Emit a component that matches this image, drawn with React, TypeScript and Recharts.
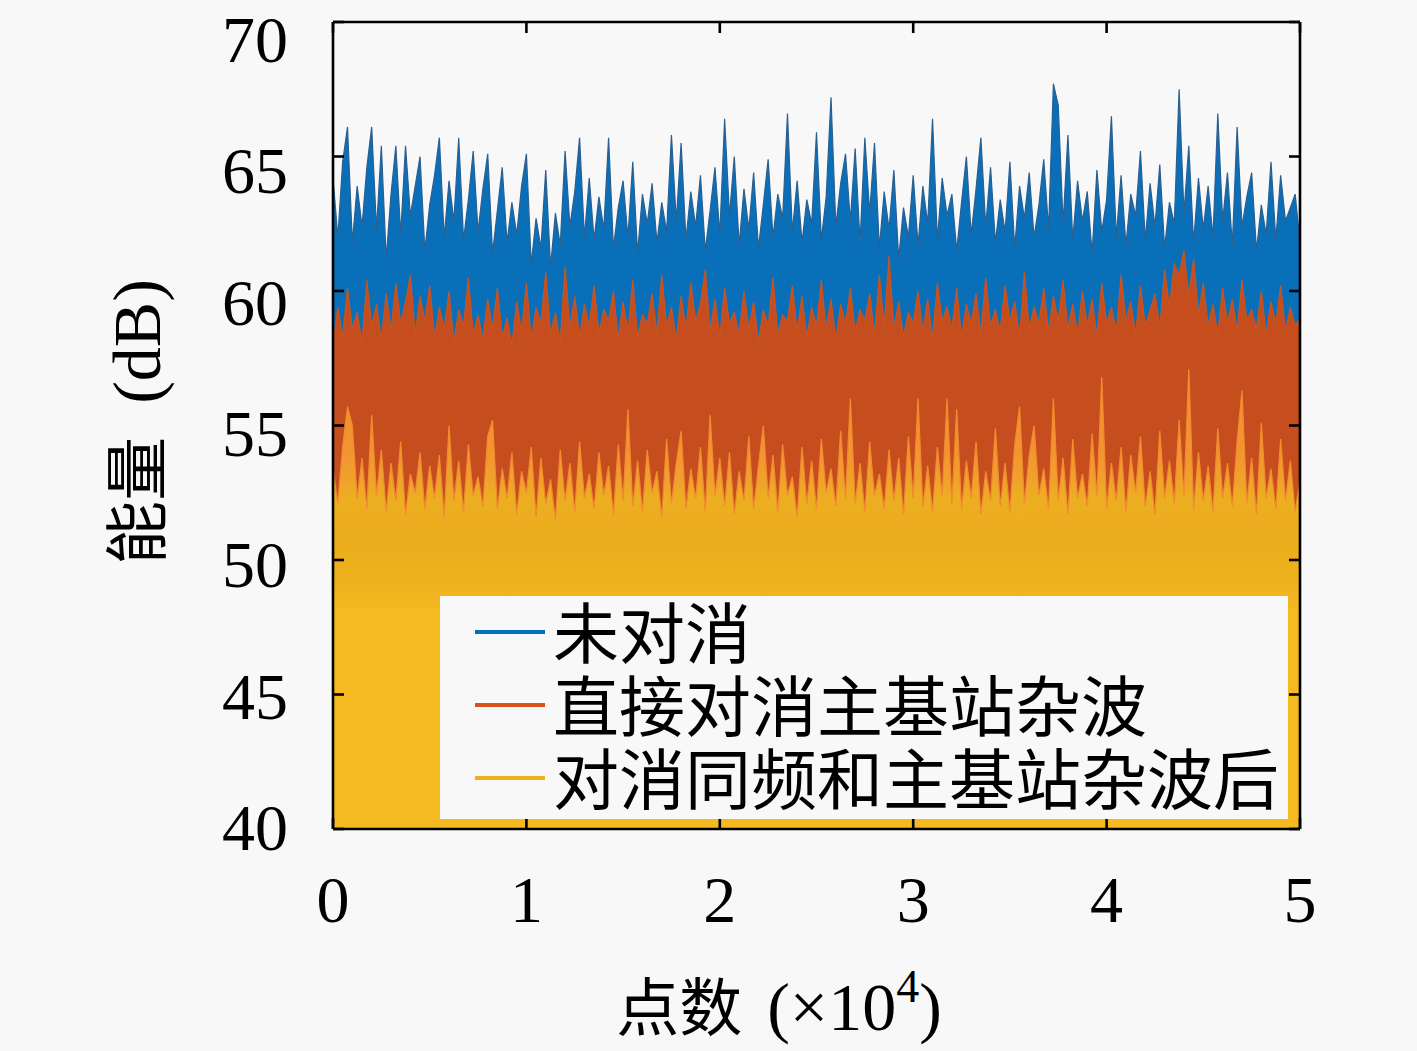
import React, { useEffect } from 'react';
import { ComposedChart, Area, XAxis, YAxis, Legend } from 'recharts';

// x in units of 10^4 points, one sample every 0.025
const X_STEP = 0.025;
const xTicks = [0, 1, 2, 3, 4, 5];
const yTicks = [40, 45, 50, 55, 60, 65, 70];
const seriesNames = ['未对消', '直接对消主基站杂波', '对消同频和主基站杂波后'];
const seriesColors = ['#0072BD', '#D95319', '#EDB120'];

// 未对消 (upper envelope, dB)
const blueTop = [
  64.2, 62.0, 64.8, 66.1, 61.8, 63.9, 62.4, 64.6, 66.1, 62.3,
  65.4, 61.2, 63.6, 65.4, 62.1, 65.4, 62.8, 63.9, 65.0, 61.5,
  63.2, 64.3, 65.7, 62.0, 64.1, 62.6, 65.7, 61.9, 63.4, 65.2,
  62.2, 63.8, 65.1, 61.4, 63.0, 64.6, 61.8, 63.3, 62.1, 63.9,
  65.1, 61.0, 62.7, 61.6, 64.5, 60.9, 62.9, 61.7, 65.2, 62.4,
  63.7, 65.7, 62.0, 64.2, 61.9, 63.5, 62.3, 65.7, 61.6, 63.1,
  64.1, 62.0, 64.8, 61.4, 63.6, 62.5, 64.0, 61.8, 63.3, 62.2,
  65.8, 62.6, 65.5, 61.9, 63.7, 62.4, 64.3, 61.5, 63.0, 64.6,
  62.1, 66.4, 62.8, 65.0, 61.7, 63.8, 62.3, 64.4, 61.6, 63.2,
  64.9, 62.0, 63.6, 62.7, 66.6, 62.2, 64.1, 61.8, 63.4, 62.5,
  65.9, 61.9, 63.5, 67.2, 62.4, 64.0, 65.1, 62.6, 65.3, 61.8,
  65.7, 62.9, 65.5, 61.6, 63.7, 62.3, 64.5, 61.2, 63.1, 62.0,
  64.3, 61.7, 63.9, 62.5, 66.4, 61.9, 64.2, 62.8, 63.6, 61.5,
  63.3, 65.0, 62.1, 63.8, 65.7, 62.4, 64.6, 61.8, 63.4, 62.2,
  64.8, 61.6, 63.9, 62.7, 64.4, 62.0, 63.2, 64.9, 62.3, 67.7,
  66.9, 62.5, 65.8, 61.9, 64.1, 62.6, 63.7, 61.4, 64.5, 62.2,
  63.4, 66.5, 62.0, 64.3, 61.7, 63.6, 62.8, 65.2, 61.9, 64.0,
  62.4, 64.7, 61.6, 63.3, 62.5, 67.5, 62.9, 65.4, 61.8, 64.2,
  62.3, 63.9, 62.0, 66.6, 62.6, 64.4, 61.7, 66.1, 62.4, 63.5,
  64.4, 61.5, 63.2, 62.1, 64.8, 61.9, 64.3, 62.6, 63.1, 63.6,
  61.8,
];

// 直接对消主基站杂波 (upper envelope, dB)
const orangeTop = [
  58.0, 59.4, 58.3, 60.1, 58.6, 59.2, 58.1, 60.4, 58.7, 59.5,
  58.2, 59.9, 58.5, 60.3, 58.8, 59.6, 60.6, 58.4, 59.8, 58.9,
  60.2, 58.3, 59.4, 58.6, 60.0, 58.1, 59.3, 58.7, 60.5, 58.4,
  59.1, 58.2, 59.7, 58.6, 60.1, 58.3, 59.0, 58.0, 59.6, 58.5,
  60.3, 58.2, 59.4, 58.8, 60.7, 58.4, 59.2, 58.1, 60.9, 58.6,
  59.8, 58.3, 59.5, 58.7, 60.2, 58.4, 59.3, 58.9, 60.0, 58.2,
  59.6, 58.5, 60.4, 58.3, 59.1, 58.8, 59.9, 58.4, 60.6, 58.7,
  59.4, 58.2, 59.8, 58.6, 60.3, 58.9, 59.5, 60.8, 58.5, 59.7,
  58.3, 60.1, 58.8, 59.2, 58.4, 60.0, 58.6, 59.6, 58.1, 59.3,
  58.7, 60.5, 58.4, 59.1, 58.9, 60.2, 58.5, 59.8, 58.3, 59.4,
  58.7, 60.4, 58.6, 59.7, 58.2, 59.5, 58.8, 60.1, 58.5, 59.3,
  58.9, 59.9, 58.4, 60.6, 58.7, 61.3, 58.6, 59.6, 58.3, 59.2,
  58.8, 60.0, 58.5, 59.7, 58.2, 60.3, 58.9, 59.4, 58.6, 60.1,
  58.3, 59.5, 58.8, 59.9, 58.4, 60.5, 58.7, 59.3, 58.5, 60.2,
  58.9, 59.6, 58.3, 60.7, 58.6, 59.4, 58.8, 60.1, 58.5, 59.8,
  58.9, 60.4, 58.6, 59.5, 58.4, 60.0, 58.7, 59.7, 58.3, 60.3,
  58.8, 59.4, 58.5, 60.6, 58.9, 59.6, 58.4, 60.2, 58.7, 59.3,
  59.9, 58.6, 60.8, 59.4, 61.0, 60.6, 61.5, 59.8, 61.2, 59.1,
  60.3, 58.7, 59.5, 58.4, 60.1, 58.8, 59.7, 58.5, 60.4, 58.9,
  59.3, 58.6, 60.0, 58.4, 59.6, 58.8, 60.2, 58.5, 59.4, 58.7,
  59.0,
];

// 对消同频和主基站杂波后 (upper envelope, dB)
const yellowTop = [
  53.4, 52.1, 54.2, 55.7, 55.0, 52.3, 53.8, 51.9, 55.4, 52.4,
  54.1, 51.8, 53.6, 52.2, 54.4, 51.7, 53.2, 52.5, 54.0, 51.9,
  53.5, 52.3, 53.9, 51.6, 55.0, 52.2, 53.7, 51.8, 54.3, 52.4,
  53.1, 52.0, 54.6, 55.2, 51.9, 53.4, 52.3, 54.0, 51.7, 53.3,
  52.5, 54.2, 51.6, 53.8, 52.1, 53.0, 51.5, 54.1, 52.2, 53.6,
  51.8, 54.4, 52.3, 53.2, 51.9, 54.0, 52.4, 53.5, 51.7, 54.3,
  52.2, 55.6, 52.0, 53.7, 51.8, 54.1, 52.5, 53.3, 51.6, 54.5,
  52.1, 53.6, 54.8, 51.9, 53.4, 52.3, 54.2, 51.8, 55.4, 52.4,
  53.8, 52.0, 54.0, 51.7, 53.3, 52.2, 54.6, 51.9, 53.5, 55.0,
  52.3, 53.9, 51.8, 54.3, 52.4, 53.1, 51.6, 54.2, 52.1, 53.7,
  51.9, 54.5, 52.5, 53.4, 52.0, 54.8, 52.3, 56.0, 52.1, 53.6,
  51.8, 54.4, 52.4, 53.2, 51.9, 54.1, 52.2, 53.8, 51.7, 54.6,
  52.3, 56.0, 52.0, 53.5, 51.8, 54.2, 52.4, 56.0, 52.1, 55.6,
  51.9, 53.7, 52.3, 54.4, 51.7, 53.3, 52.2, 54.9, 52.0, 53.6,
  51.8, 54.3, 55.7, 52.1, 53.9, 55.0, 52.4, 53.4, 51.9, 56.0,
  52.2, 53.8, 51.7, 54.5, 52.3, 53.2, 52.0, 54.7, 52.4, 56.8,
  51.9, 53.6, 52.2, 54.2, 51.8, 53.9, 52.5, 54.6, 52.0, 53.3,
  51.7, 54.8, 52.3, 53.7, 52.1, 55.2, 52.4, 57.1, 51.9, 54.0,
  52.2, 53.5, 51.8, 54.9, 52.3, 53.6, 52.0, 54.4, 56.3, 52.1,
  53.8, 51.7, 55.1, 52.3, 53.4, 51.9, 54.5, 52.2, 53.7, 51.8,
  53.0,
];

const data = blueTop.map((b, i) => ({
  x: Number((i * X_STEP).toFixed(4)),
  blue: b,
  orange: orangeTop[i],
  yellow: yellowTop[i],
}));

const SERIF = '"Liberation Serif", "DejaVu Serif", serif';
const CJK = '"Noto Sans CJK SC", "Noto Sans CJK JP", sans-serif';
const BG = '#f8f8f8';
const TICK_LEN = 11;
const AX_W = 2.6;
const TICK_FONT = 66;
const W = 1417;
const H = 1051;

const BottomTick = (p: any) => (
  <g>
    <line x1={p.x} x2={p.x} y1={p.y} y2={p.y - TICK_LEN} stroke="#000" strokeWidth={AX_W} />
    <text x={p.x} y={p.y + 93} textAnchor="middle" fontFamily={SERIF} fontSize={TICK_FONT} fill="#000">
      {p.payload.value}
    </text>
  </g>
);
const TopTick = (p: any) => (
  <line x1={p.x} x2={p.x} y1={p.y} y2={p.y + TICK_LEN} stroke="#000" strokeWidth={AX_W} />
);
const LeftTick = (p: any) => {
  const v = p.payload.value;
  return (
    <g>
      <line x1={p.x} x2={p.x + TICK_LEN} y1={p.y} y2={p.y} stroke="#000" strokeWidth={AX_W} />
      <text x={p.x - 45} y={p.y + 40 - (70 - v) * 0.63} textAnchor="end" fontFamily={SERIF} fontSize={TICK_FONT} fill="#000">
        {v}
      </text>
    </g>
  );
};
const RightTick = (p: any) => (
  <line x1={p.x} x2={p.x - TICK_LEN} y1={p.y} y2={p.y} stroke="#000" strokeWidth={AX_W} />
);

// legend box: page x 440..1288, y 596..819 ; svg padded by PAD on every side
const PAD = 14;
const LegendBox = () => {
  const rows = [38, 111, 184];
  return (
    <svg width={848 + 2 * PAD} height={223 + 2 * PAD} style={{ display: 'block', overflow: 'visible' }}>
      <g transform={`translate(${PAD} ${PAD})`}>
        <rect x={0} y={0} width={848} height={223} fill={BG} />
        {seriesNames.map((n, i) => (
          <g key={n}>
            <line x1={35} x2={105} y1={rows[i] - 2} y2={rows[i] - 2} stroke={seriesColors[i]} strokeWidth={4} />
            <text x={113} y={rows[i] + 24} fontFamily={CJK} fontSize={66} fill="#000">
              {n}
            </text>
          </g>
        ))}
      </g>
    </svg>
  );
};

export default function App() {
  useEffect(() => {
    document.body.style.background = BG;
  }, []);
  return (
    <div style={{ position: 'relative', width: W, height: H, marginTop: -8, marginLeft: -8, background: BG }}>
      <svg width={0} height={0} style={{ position: 'absolute' }}>
        <defs>
          <linearGradient id="yellowFill" gradientUnits="userSpaceOnUse" x1={0} y1={368} x2={0} y2={829}>
            <stop offset="0" stopColor="#F28B2F" />
            <stop offset="0.18" stopColor="#F29530" />
            <stop offset="0.24" stopColor="#F0A12C" />
            <stop offset="0.28" stopColor="#EDAE22" />
            <stop offset="0.39" stopColor="#EAAD1C" />
            <stop offset="0.475" stopColor="#EFB31E" />
            <stop offset="0.53" stopColor="#F5BA22" />
            <stop offset="1" stopColor="#F5BA22" />
          </linearGradient>
        </defs>
      </svg>
      <ComposedChart
        width={W}
        height={H}
        data={data}
        margin={{ top: 21, right: 116, bottom: 0, left: 0 }}
      >
        <Area
          type="linear"
          dataKey="blue"
          name={seriesNames[0]}
          baseValue={40}
          fill="#0A6FB9"
          fillOpacity={1}
          stroke="#2A5F90"
          strokeWidth={1.2}
          dot={false}
          activeDot={false}
          isAnimationActive={false}
        />
        <Area
          type="linear"
          dataKey="orange"
          name={seriesNames[1]}
          baseValue={40}
          fill="#C64D1E"
          fillOpacity={1}
          stroke="#C9541F"
          strokeWidth={1.2}
          dot={false}
          activeDot={false}
          isAnimationActive={false}
        />
        <Area
          type="linear"
          dataKey="yellow"
          name={seriesNames[2]}
          baseValue={40}
          fill="url(#yellowFill)"
          fillOpacity={1}
          stroke="#F28A30"
          strokeWidth={1.2}
          dot={false}
          activeDot={false}
          isAnimationActive={false}
        />
        <XAxis
          dataKey="x"
          type="number"
          domain={[0, 5]}
          ticks={xTicks}
          interval={0}
          height={222}
          tickSize={0}
          tickMargin={0}
          tickLine={false}
          tick={BottomTick}
          axisLine={{ stroke: '#000', strokeWidth: AX_W }}
          allowDataOverflow
        />
        <XAxis
          xAxisId="top"
          orientation="top"
          dataKey="x"
          type="number"
          domain={[0, 5]}
          ticks={xTicks}
          interval={0}
          height={1}
          tickSize={0}
          tickMargin={0}
          tickLine={false}
          tick={TopTick}
          axisLine={{ stroke: '#000', strokeWidth: AX_W }}
          allowDataOverflow
        />
        <YAxis
          type="number"
          domain={[40, 70]}
          ticks={yTicks}
          interval={0}
          width={333}
          tickSize={0}
          tickMargin={0}
          tickLine={false}
          tick={LeftTick}
          axisLine={{ stroke: '#000', strokeWidth: AX_W }}
          allowDataOverflow
        />
        <YAxis
          yAxisId="right"
          orientation="right"
          type="number"
          domain={[40, 70]}
          ticks={yTicks}
          interval={0}
          width={1}
          tickSize={0}
          tickMargin={0}
          tickLine={false}
          tick={RightTick}
          axisLine={{ stroke: '#000', strokeWidth: AX_W }}
          allowDataOverflow
        />
        <Legend
          layout="vertical"
          align="center"
          verticalAlign="middle"
          content={() => <LegendBox />}
          wrapperStyle={{ left: 440 - PAD, top: 596 - PAD, width: 848 + 2 * PAD, height: 223 + 2 * PAD }}
        />
      </ComposedChart>
      <svg
        width={W}
        height={H}
        style={{ position: 'absolute', left: 0, top: 0, pointerEvents: 'none' }}
      >
        <text x={779} y={1030} textAnchor="middle" fill="#000">
          <tspan fontFamily={CJK} fontSize={63}>点数</tspan>
          <tspan fontFamily={SERIF} fontSize={68} dx={8}> (×10</tspan>
          <tspan fontFamily={SERIF} fontSize={46} dy={-28}>4</tspan>
          <tspan fontFamily={SERIF} fontSize={68} dy={28}>)</tspan>
        </text>
        <text x={160} y={422} textAnchor="middle" fill="#000" transform="rotate(-90 160 422)">
          <tspan fontFamily={CJK} fontSize={64}>能量</tspan>
          <tspan fontFamily={SERIF} fontSize={68} dx={16}> (dB)</tspan>
        </text>
      </svg>
    </div>
  );
}
